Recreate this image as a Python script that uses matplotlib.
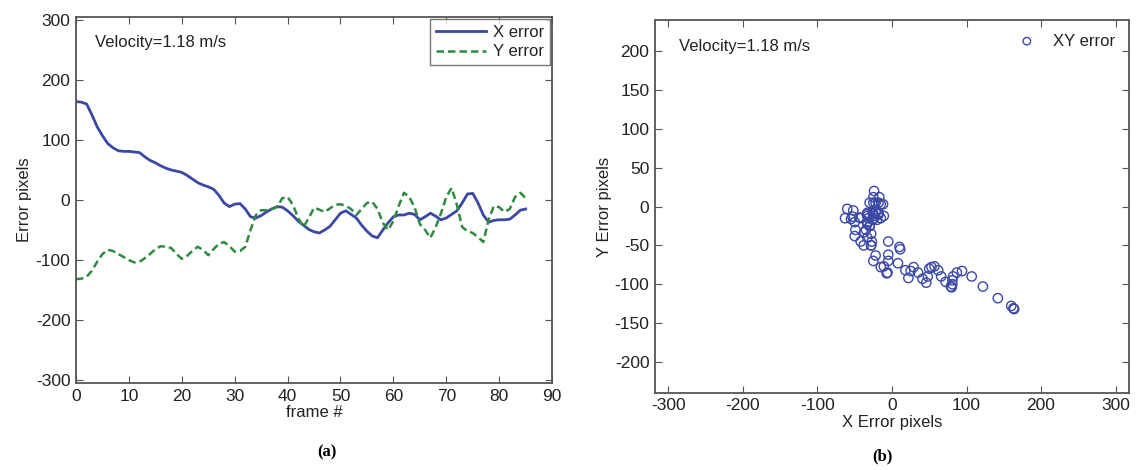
import matplotlib
matplotlib.use("Agg")
import matplotlib.pyplot as plt

plt.rcParams['font.family'] = ['Liberation Sans', 'DejaVu Sans']
plt.rcParams['axes.unicode_minus'] = False

frames = list(range(0, 86))
x_error = [164, 163, 160, 142, 122, 107, 94, 87, 82, 81,
           81, 80, 79, 72, 66, 62, 57, 53, 50, 48,
           46, 41, 35, 29, 25, 22, 18, 8, -5, -11,
           -7, -6, -15, -28, -30, -26, -20, -15, -11, -12,
           -18, -26, -35, -42, -49, -53, -55, -50, -44, -33,
           -22, -18, -24, -30, -42, -52, -60, -63, -50, -38,
           -28, -25, -25, -22, -24, -33, -28, -22, -27, -33,
           -30, -24, -18, -5, 10, 11, -5, -25, -37, -34,
           -33, -33, -32, -25, -17, -15]
y_error = [-132, -131, -128, -118, -103, -90, -83, -85, -90, -95,
           -100, -104, -103, -97, -90, -82, -77, -78, -80, -90,
           -98, -93, -85, -78, -83, -92, -82, -73, -70, -77,
           -86, -85, -78, -50, -25, -17, -17, -15, -12, 3,
           5, -8, -30, -45, -30, -13, -16, -20, -14, -8,
           -7, -10, -15, -25, -15, -5, -3, -15, -38, -50,
           -35, -10, 12, 5, -12, -40, -50, -63, -45, -22,
           5, 20, -8, -45, -52, -55, -62, -70, -33, -10,
           -12, -20, -15, 5, 12, 3]

left_xticks = [0, 10, 20, 30, 40, 50, 60, 70, 80, 90]
left_yticks = [-300, -200, -100, 0, 100, 200, 300]
right_xticks = [-300, -200, -100, 0, 100, 200, 300]
right_yticks = [-200, -150, -100, -50, 0, 50, 100, 150, 200]

blue = '#3B48A6'
green = '#2E8B40'
frame_col = '#555555'
text_col = '#222222'

fig = plt.figure(figsize=(11.36, 4.70), dpi=100)
ax1 = fig.add_axes([0.0669, 0.185, 0.4191, 0.779])
ax2 = fig.add_axes([0.5766, 0.164, 0.4172, 0.793])

def style(ax):
    ax.tick_params(direction='in', top=True, right=True, labelsize=12.5,
                   length=5, color=frame_col, labelcolor=text_col, pad=4)
    for s in ax.spines.values():
        s.set_color(frame_col)
        s.set_linewidth(1.3)

ax1.plot(frames, x_error, color=blue, lw=2.0, label='X error')
ax1.plot(frames, y_error, color=green, lw=1.8, ls=(0, (3, 1.6)), label='Y error')
ax1.set_xlim(0, 90)
ax1.set_ylim(-305, 305)
ax1.set_xticks(left_xticks)
ax1.set_yticks(left_yticks)
ax1.set_xlabel('frame #', fontsize=12, labelpad=1, color=text_col)
ax1.set_ylabel('Error pixels', fontsize=12, labelpad=3, color=text_col)
ax1.text(0.04, 0.93, 'Velocity=1.18 m/s', transform=ax1.transAxes,
         fontsize=12, va='center', ha='left', color=text_col)
leg1 = ax1.legend(loc='upper right', fontsize=12, frameon=True, fancybox=False,
                  borderaxespad=0.15, handlelength=3.0, borderpad=0.35,
                  labelspacing=0.25, handletextpad=0.4)
leg1.get_frame().set_edgecolor(frame_col)
leg1.get_frame().set_linewidth(1.0)
for t in leg1.get_texts():
    t.set_color(text_col)
style(ax1)

ax2.scatter(x_error, y_error, s=45, facecolors='none', edgecolors=blue,
            linewidths=1.0, label='XY error')
ax2.set_xlim(-318, 318)
ax2.set_ylim(-240, 240)
ax2.set_xticks(right_xticks)
ax2.set_yticks(right_yticks)
ax2.set_xlabel('X Error pixels', fontsize=12, labelpad=1, color=text_col)
ax2.set_ylabel('Y Error pixels', fontsize=12, labelpad=2, color=text_col)
ax2.text(0.05, 0.93, 'Velocity=1.18 m/s', transform=ax2.transAxes,
         fontsize=12, va='center', ha='left', color=text_col)
leg2 = ax2.legend(loc='upper right', fontsize=12, frameon=False, borderaxespad=0.4,
                  handletextpad=0.6, markerscale=0.8)
for t in leg2.get_texts():
    t.set_color(text_col)
style(ax2)

fig.text(0.288, 0.038, '(a)', fontsize=12, fontweight='bold',
         family=['Liberation Serif', 'DejaVu Serif'], ha='center', va='center')
fig.text(0.777, 0.03, '(b)', fontsize=12, fontweight='bold',
         family=['Liberation Serif', 'DejaVu Serif'], ha='center', va='center')

fig.savefig('out.png', dpi=100)
